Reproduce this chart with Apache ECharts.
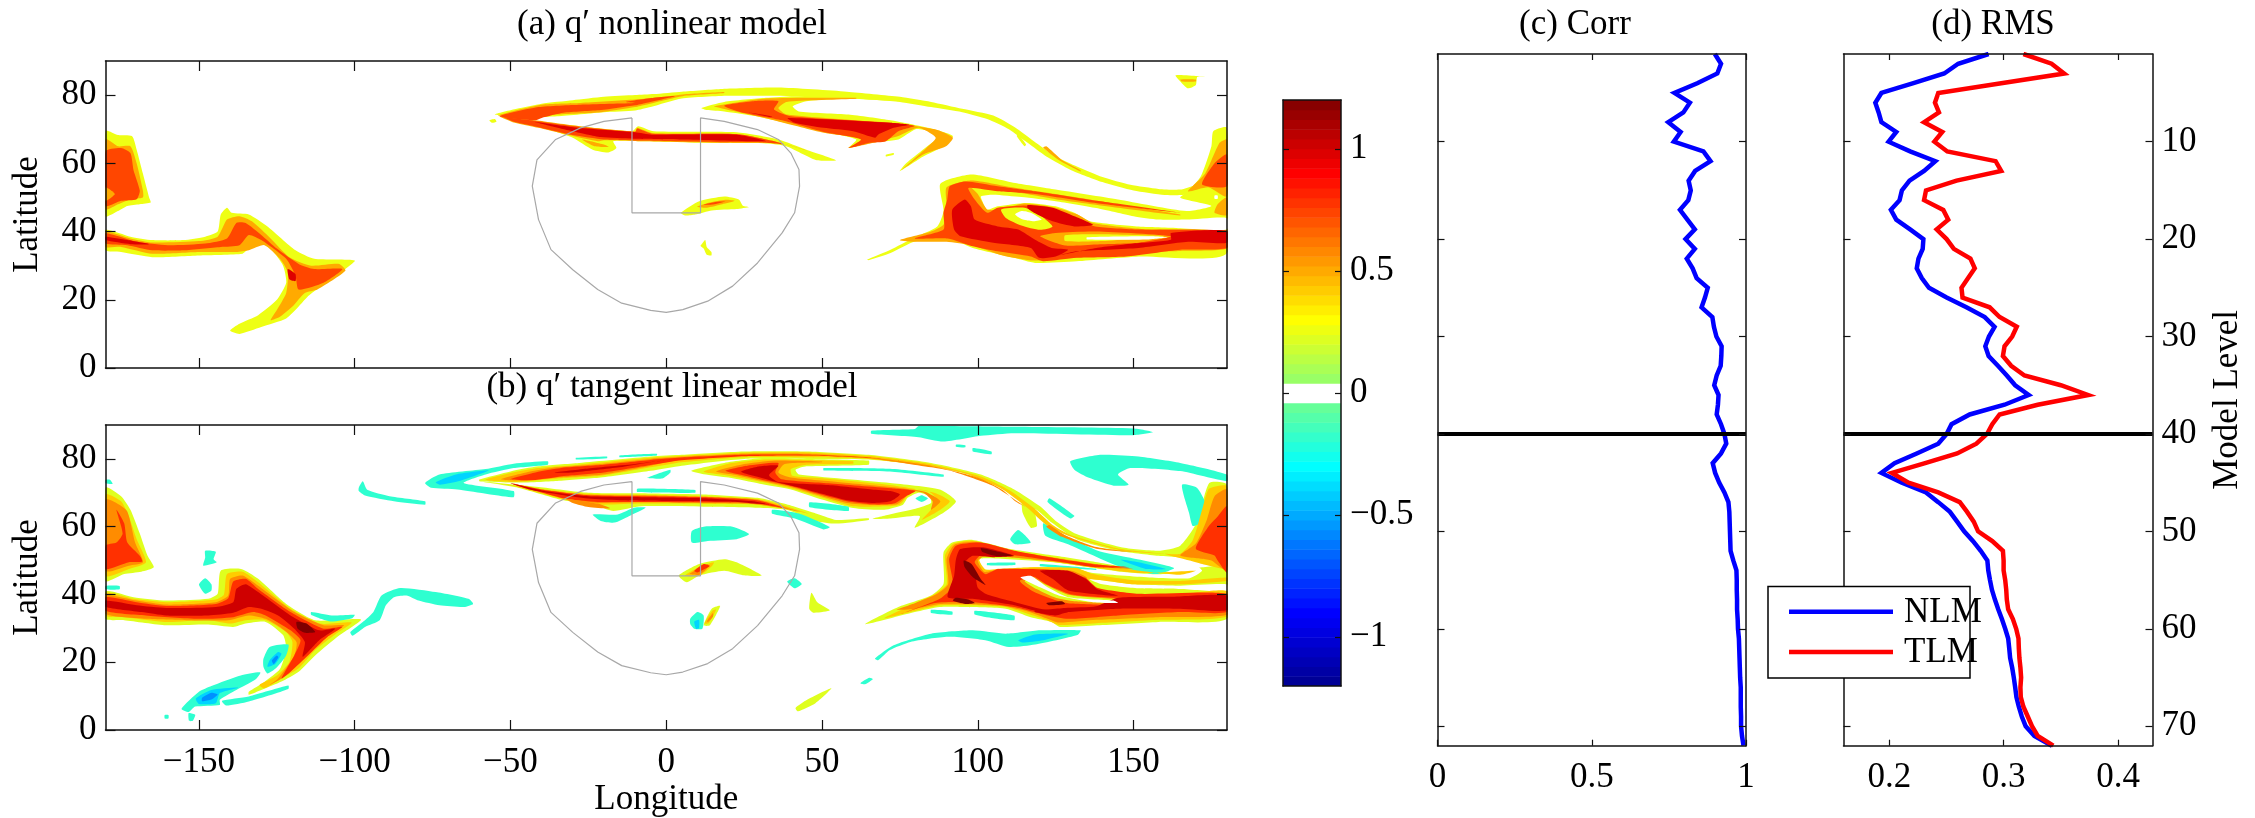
<!DOCTYPE html>
<html>
<head>
<meta charset="utf-8">
<script src="https://cdn.jsdelivr.net/npm/echarts@6/dist/echarts.min.js"></script>
<style>
    html, body { margin: 0; padding: 0; background: #fff; }
    #main { width: 2255px; height: 818px; }
</style>
</head>
<body>
<div id="main"></div>
<script>
// profile panels: one value per model level 1..72
var corr = [0.899,0.919,0.907,0.842,0.768,0.818,0.797,0.748,0.788,0.766,0.862,0.885,0.835,0.814,0.821,0.813,0.786,0.810,0.834,0.804,0.834,0.808,0.827,0.840,0.876,0.867,0.856,0.891,0.896,0.904,0.921,0.920,0.918,0.905,0.897,0.911,0.909,0.905,0.919,0.930,0.936,0.919,0.892,0.900,0.913,0.930,0.943,0.946,0.947,0.948,0.949,0.950,0.959,0.969,0.970,0.970,0.971,0.971,0.973,0.974,0.977,0.978,0.979,0.980,0.981,0.983,0.983,0.983,0.984,0.984,0.987,0.992];
var rmsNLM = [0.2868,0.2602,0.2480,0.2211,0.1931,0.1878,0.1907,0.1931,0.2061,0.1994,0.2182,0.2402,0.2304,0.2177,0.2110,0.2090,0.2014,0.2061,0.2182,0.2298,0.2292,0.2255,0.2240,0.2284,0.2347,0.2501,0.2674,0.2834,0.2920,0.2871,0.2839,0.2868,0.2949,0.3027,0.3100,0.3218,0.3007,0.2703,0.2544,0.2501,0.2428,0.2240,0.2046,0.1931,0.2110,0.2321,0.2428,0.2530,0.2593,0.2654,0.2732,0.2799,0.2857,0.2865,0.2880,0.2897,0.2923,0.2952,0.2984,0.3013,0.3039,0.3048,0.3056,0.3074,0.3088,0.3100,0.3111,0.3132,0.3158,0.3192,0.3268,0.3421];
var rmsTLM = [0.3172,0.3418,0.3528,0.2978,0.2428,0.2399,0.2434,0.2304,0.2463,0.2394,0.2507,0.2929,0.2978,0.2588,0.2321,0.2304,0.2472,0.2515,0.2414,0.2501,0.2564,0.2709,0.2747,0.2689,0.2631,0.2640,0.2877,0.2964,0.3114,0.3074,0.3007,0.2993,0.3065,0.3181,0.3499,0.3737,0.3297,0.2964,0.2900,0.2854,0.2761,0.2593,0.2313,0.2023,0.2168,0.2428,0.2616,0.2680,0.2738,0.2776,0.2900,0.2993,0.2999,0.2999,0.3013,0.3022,0.3027,0.3039,0.3080,0.3109,0.3129,0.3132,0.3137,0.3146,0.3152,0.3146,0.3149,0.3172,0.3210,0.3247,0.3297,0.3433];
var refLevel = 40;

var lonTicks = [-150,-100,-50,0,50,100,150];
var latTicks = [0,20,40,60,80];
var levelTicks = [10,20,30,40,50,60,70];
var corrTicks = [0,0.5,1];
var rmsTicks = [0.2,0.3,0.4];
var cbarTicks = [-1,-0.5,0,0.5,1];

// outline of the perturbed region, lon / lat
var regionLon = [-11,-11,11,11,18.6,29.3,36,40,42.6,42.8,41.2,37.2,29.3,21.3,13.3,5.3,0,-5,-14.3,-22,-30,-37,-41,-43,-41.5,-35.5,-27.5,-20,-11];
var regionLat = [73.3,45.5,45.5,73.3,72.3,69.9,67,63,58.2,53.3,45.5,39.6,30.8,24,19.6,17.1,16.3,16.9,19,23,28.8,34.7,43.5,53.3,61,67,70.4,72.3,73.3];

// panel (a) contour regions, [lon, lat] vertices per filled level
var aYellow = [
    [[-180,69.5],[-176,68.3],[-171.5,68],[-170,64],[-168,57],[-166,50],[-165.5,48.5],[-169,48],[-173,47.5],[-176,46],[-180,44.5]],
    [[-180,40.5],[-172,38.5],[-165,37.5],[-155,37.5],[-148,38.5],[-144,40],[-143,45],[-141,47],[-139.5,45.5],[-134,45],[-128,41.5],[-119,34.5],[-113,32],[-100,31.5],[-103,29],[-108,25.5],[-113,22.5],[-115,21],[-118,18],[-122,14.5],[-130,12],[-137,10],[-140,11],[-137,13],[-131,15.5],[-125,20],[-122,25],[-123,30],[-127,35],[-130,36.5],[-134,35],[-136,33.5],[-150,33],[-165,32.5],[-175,34],[-180,34.5]],
    [[-56.8,72.6],[-55,73],[-54.5,72.2],[-56,71.9]],
    [[-55,74.3],[-48,76],[-40,77.5],[-30,78.5],[-20,79.5],[-10,80],[-4,80.3],[5,81],[18,81.8],[36,82.2],[58,81],[75,79.5],[85,78],[95,76],[105,74],[112,70.5],[118,66.5],[125,62],[132,59],[140,56],[149,53.7],[158,52.5],[165,52.3],[170,53.5],[168,51],[160,50.7],[150,52],[140,54.5],[130,58],[122,62],[116,66],[110,70],[103,73],[95,75],[85,76.5],[75,78],[60,79],[40,79.7],[20,79.8],[5,79],[-5,76.5],[-10,75.5],[-20,75],[-35,73.8],[-45,73.5]],
    [[-50,73],[-42,72.3],[-28,70.9],[-11,69.4],[-9,70.9],[-4,69.4],[22.6,69.1],[36,67],[45,64],[54.5,60.9],[48,61],[38.5,65],[32,65.8],[12,66],[-8,66.5],[-17,66.5],[-16,64.5],[-18.6,63.2],[-23.6,64],[-30,67.5],[-38,70]],
    [[11.3,76.2],[18.6,78],[32,79.2],[41,79.7],[61,79.7],[74.5,78.7],[74.5,78.2],[58.5,78.9],[45,78.2],[40.6,76.7],[42.5,75.2],[58.5,74.3],[72,72.6],[84,70.4],[92,68],[89,65],[82.5,62],[75,57.7],[77,60],[83.8,65],[87,67.5],[84,69.5],[80,70],[74.5,67],[65,66],[58.5,64.5],[61,67],[50,69.4],[38.5,71.8],[29,73.8],[18.6,75.2],[13,75.6]],
    [[70.5,62.5],[73,63],[73,62.5],[70.5,62]],
    [[4.7,45.5],[10.6,48.9],[18.6,50.3],[23.3,49.4],[24.6,47.6],[26.6,47.2],[22.6,46.6],[14.6,46.2],[9.3,45],[6,44.7]],
    [[11.3,36.2],[12.5,37.5],[13,35.5],[14.5,34],[14.5,33],[13,33.2],[12,35],[11,35.8]],
    [[163.5,85.8],[170.5,85.6],[175,85.5],[170.5,85.4],[170,83],[167.5,82],[165.5,83.5]],
    [[113,68.5],[115.5,65.5],[115,65],[112.5,68]],
    [[64.5,31.8],[72,34.7],[79,38],[87,41.5],[89,46],[88,54],[98,56.7],[112,54.2],[125,52.3],[145,49.4],[167,46],[175,47.5],[165,49.9],[167.5,51.8],[171.6,56.2],[175,65],[175.6,69.4],[180,70.4],[180,33.7],[151.6,32.7],[131.7,31.3],[118.4,30.8],[111.7,32.3],[98.4,35.2],[91.8,37.6],[79.8,37.1],[72,33.7],[65,31.6]]
];
var aGaps = [
    [[101,50.3],[105,50.8],[114,50.1],[125,48.9],[138,46.9],[150,44.5],[158,43.5],[167,43.5],[180,44],[180,40.6],[165,41],[151,41.5],[136,43],[131,45.5],[125,47.4],[115.7,48.4],[106.4,47.4],[103,46.4],[101.7,48.4]],
    [[176,50.6],[177,50.6],[177,49.6],[176,49.6]],
    [[105,35.6],[112,35.5],[112,34.8],[105,34.8]]
];
var aOrange = [
    [[-180,67],[-176,65],[-172,65],[-170,60],[-168,52],[-168,50],[-172,49.5],[-176,48],[-180,46.5]],
    [[-180,40],[-172,38],[-165,36.8],[-150,37.2],[-144,38.5],[-141,43.5],[-137,44.5],[-133,43],[-127,38],[-121,32.5],[-114,30],[-105,30.5],[-103,28.5],[-112,23],[-116,22],[-120,18],[-124,15],[-127,14],[-125,17],[-122,22],[-121.5,28],[-124,32],[-129,36],[-134,34.5],[-138,34],[-150,34],[-165,33.5],[-175,35.5],[-180,35.5]],
    [[-54,74],[-40,77.2],[-27.5,77.7],[-10,78.7],[-4,79.2],[5.3,80.2],[18.6,80.9],[18.6,80.6],[5.3,79.7],[-6.6,77.2],[-10,76.5],[-21,75],[-35.5,74.3],[-40,73.8]],
    [[-53.5,73.8],[-42,72.6],[-28,70.9],[-10,69.4],[-9.3,70.4],[-4.6,68.9],[22.6,68.6],[34.6,66.5],[45,63.8],[37,65.8],[18.6,66],[-8,66.5],[-20,66.8],[-22,66.5],[-30,68],[-41,70.4],[-49,72]],
    [[15.3,76.7],[32,79],[61,79.2],[61,78.9],[38.6,78],[36,76.2],[38.6,74.3],[72,71.8],[86.5,69.9],[92,67.5],[89.8,65],[82.5,62.6],[75.8,58.2],[83.5,64.5],[86.5,67.5],[81,70.4],[74.5,68],[66.5,66],[58.5,64.5],[64,67],[50.5,69],[36,72.3],[24,74.8],[17.3,76.2]],
    [[10,47.3],[14,48.5],[19,49.3],[22,49],[18,48],[13,47]],
    [[165,84.6],[170,84.6],[170,84],[165.5,84]],
    [[75,37.5],[85,40],[89,42],[90,47],[90,53],[98,55],[111,53],[125,51],[145,48],[165,45],[165,44.7],[145,47],[125,49.5],[111,51.8],[103,53],[97,54],[100,51],[103,46.5],[107,46.5],[115,48.2],[125,47],[132,45],[137,42.5],[152,40.8],[165,40.3],[180,40],[180,35],[165,34.3],[150,33.8],[132,32.5],[118,31.5],[108,33],[98,36],[90,37],[80,37]],
    [[167.5,51.8],[173,57],[177.6,66],[180,67],[180,50.3],[174,53]],
    [[177,48],[180,50],[180,44.8],[176,45.5]],
    [[122,65],[127,61],[133,58],[133,57.6],[126,61],[121,64.6]]
];
var aBright = [
    [[-180,63.5],[-175,64.5],[-172,63],[-171,58],[-169,52],[-170,49.5],[-175,49],[-180,47.5]],
    [[-180,39.5],[-170,37],[-160,36],[-148,36.5],[-141,38],[-138,42.5],[-135,42.5],[-130,39],[-125,35],[-118,30.5],[-113,29],[-104,29],[-110,25],[-118,23],[-119,27],[-122,32],[-130,37.5],[-134,39],[-137,36],[-143,35.5],[-155,34.5],[-165,34.5],[-173,36],[-180,36.5]],
    [[-53.5,73.8],[-41,76.5],[-27.5,77.2],[-10,77.7],[-13,78],[-4,79.2],[2.7,79.7],[-6.6,77.7],[-10,77],[-21,75.6],[-33,74.8],[-40,73.3],[-42,72.6]],
    [[-52,73.5],[-42,72.4],[-28,70.7],[-10,69.2],[-9.3,70.2],[-4.6,68.7],[22.6,68.6],[34.6,66.5],[38,65.6],[30,66.2],[18.6,66.2],[-8,66.7],[-20,67],[-30,68.3],[-41,70.6],[-49,72.2]],
    [[18.6,76.9],[28,78.2],[36,78.2],[34.6,75.8],[40,73.8],[72,71.9],[79.8,71],[74.5,69.4],[70.5,66.5],[65.2,66],[61.2,65],[58.5,64.5],[62.5,67],[50.5,69.2],[37.2,72.6],[24,75]],
    [[79.8,38],[89,40.6],[89,45.5],[90.2,49.4],[91,53.3],[96,54.7],[106.4,53.3],[118.4,51.8],[138.3,49],[165,45.5],[138.3,48.3],[118.4,51],[106.4,51.8],[97,52.8],[99,49.4],[103,45.5],[106.4,47],[117,47.6],[125,45.5],[131.7,43.5],[137.7,41.5],[151.6,40.6],[180,40],[180,35.2],[165,34.7],[147.6,32.7],[131.7,32.3],[121,31.3],[117,32.7],[106.4,34.2],[98.4,35.7],[90.4,38]],
    [[172,53.8],[176,60],[180,62.6],[180,53.3]],
    [[12,47.9],[17,48.8],[19,48.8],[15,47.9]]
];
var aPatchOrange = [
    [[-180,53],[-177,51],[-180,49]],
    [[-27,67],[-20,65.5],[-18.5,64.8],[-23,65]],
    [[125,39.6],[138,40],[162,38.6],[151.6,36.7],[138,36.2],[128,35.9],[120,38.6]]
];
var aPatchYellow = [
    [[107.5,46.5],[115,47],[119,45.5],[124,41.5],[120,40.5],[114,41.8],[109,44]],
    [[128,38.9],[140,39.2],[160,38.6],[140,37.2],[128,37.2]]
];
var aRed = [
    [[-180,38.5],[-173,37.5],[-166,36.3],[-172,36.3],[-180,37.5]],
    [[-121.5,29],[-119,27.5],[-119,25.5],[-121,26]],
    [[-42,72.1],[-28.5,70.4],[-10,69.1],[-4.6,68.4],[22.6,68.4],[32,66.5],[5,67],[-10.6,67.2],[-21,67.7],[-25,68.4],[-37,70.9]],
    [[26,75],[34,73.8],[33,73.6],[27,74.8]],
    [[39,73.3],[72,71.9],[78,71.3],[73,70.4],[68,68.4],[67,67.5],[60,69.4],[50.5,70.4],[41,72]],
    [[91.8,46.4],[95.8,49.4],[97.8,47.4],[99,43.5],[106.4,41.5],[113,40.6],[118.4,37.6],[123.7,35.2],[129,34.7],[125,32.7],[119.7,32.3],[117,35.2],[105,36.7],[94.5,38.6],[92.4,40.6]],
    [[116,47.8],[124,47],[131,44.5],[137,42],[131,41.5],[124,43],[118,45.5],[116,46.8]],
    [[162,39.6],[180,40.3],[180,36.7],[167.5,37],[151.6,35.2],[131.7,34.2],[126,33],[138,35.2],[150,36.5],[162,37.6]]
];
var aCuts = [
    [[112,45],[114,46],[117,45.5],[120.5,43.5],[118,43],[114.5,43.5]],
    [[135,38.3],[155,38.6],[161,38.3],[155,37.7],[135,37.7]]
];

// panel (b) contour regions
var bYellow = [
    [[-180,71.5],[-175,69],[-172,65],[-169,58],[-166.5,51.4],[-164.5,48],[-168.5,46.7],[-174,46],[-180,44]],
    [[-180,40.9],[-171,39.2],[-160.5,38.2],[-147,38.7],[-144,40.2],[-143,47],[-136.5,47.5],[-131,44.6],[-122,37.2],[-112.7,32.4],[-98,32.6],[-104.8,28],[-112.7,22],[-118,17.2],[-123.5,14.3],[-130,11.8],[-134,10.4],[-134,11.3],[-129,14.2],[-124,18],[-122,24],[-123,28],[-128.6,31.9],[-135,31.4],[-139,30.4],[-147,31.1],[-160.5,30.9],[-174,32.4],[-180,32.8]],
    [[-60,73.9],[-50,76.3],[-41,77.8],[-28,78.8],[-5,80.7],[5,81.2],[25,82.2],[45,82.2],[65,81.2],[85,78.8],[101,75.4],[111.7,71],[120,66],[125,61.7],[131.7,57.8],[146,53.9],[158,52.9],[165,54.4],[170.3,61.2],[174.3,72.9],[180,72.4],[180,48],[172,50],[165,50.9],[158,51.4],[145,52.9],[131.7,56.3],[123.7,61.2],[118.4,65.1],[119,60.2],[117,59.7],[114.4,64.1],[113.7,68],[107.7,71.5],[97,75.4],[85,77.8],[65,79.8],[45,80],[25,80],[5,78],[-5,76.5],[-21,74.5],[-35,73.5],[-48,73],[-60,73.4]],
    [[-60,73.4],[-41,71.7],[-25,70],[-5,69.8],[12,69.5],[29.3,68.5],[38.6,66.6],[49,63.6],[54.5,62],[65,62.5],[65,62],[54.5,60.9],[48,61.7],[38.6,65],[29.3,65.6],[12,65.9],[-8,66],[-17,64.6],[-22,66],[-34,68],[-47.5,71.5]],
    [[8,76.5],[18.6,78.8],[32,80.3],[45,80],[65,79.5],[65,78.3],[45,77.8],[41.5,76.8],[42.6,75.4],[71.8,72.9],[87.8,71],[93,67.5],[89,64.1],[79.8,59.7],[81.4,63.1],[72,62.4],[66,62.3],[72,63.7],[80,65.3],[85,67],[84.5,69],[81,70],[77.5,68.5],[76,66.5],[70,65],[60,65.5],[50,68],[40,71],[30,72.7],[20,74.5],[12,75.5]],
    [[41.5,6.5],[45.2,8.9],[53,12.3],[47.9,7.9],[42.3,5.5]],
    [[45.9,35.8],[46.6,40.5],[48.5,37.7],[52.5,35.3],[47.3,34.6]],
    [[4,45.6],[10.6,49],[18.6,50.4],[22.6,49.5],[30.6,45.6],[24.6,45.7],[18.6,47],[10.6,45.6],[6.6,43.6]],
    [[12,30.9],[14.6,35.8],[17.3,36.6],[14,30.9]],
    [[63.8,31.2],[74.5,36.3],[85,39.7],[89,43.1],[89,52.4],[91.8,55.3],[98.4,56.1],[110.4,53.4],[125,51.4],[138.3,49.5],[151.6,47.5],[165,46.5],[172,48],[180,48],[180,32.8],[158,31.9],[138.3,30.9],[126.4,30.4],[123.7,31.9],[117,33.3],[109,35.8],[95.8,36.3],[87.8,36.3],[79.8,34.8]]
];
var bGaps = [
    [[100.4,50.4],[106,50.6],[125,49.4],[145,46.8],[160,46],[170,48.5],[172,47],[168,44.8],[155,45],[137,46.3],[131.7,47.5],[118.4,48],[106,47.2],[102,47.5]],
    [[135.7,44.6],[149,43.1],[165,42.6],[180,43],[180,40.9],[165,41.6],[151.6,41.8],[140,43]]
];
var bCyan = [
    [[-180,73.8],[-178.5,73.8],[-177.7,72.6],[-180,72.8]],
    [[-148,52.9],[-144.6,52.6],[-145.3,50.4],[-144.3,49.5],[-148.6,48.5],[-148,50.9]],
    [[-150,43],[-148,44.8],[-146,43],[-146,41.2],[-148,40.2],[-149.3,41.6]],
    [[-180,42.5],[-175.5,42.5],[-175.5,41.5],[-180,41.5]],
    [[-114,34.8],[-107.4,33.8],[-100,34],[-100.8,33],[-107.4,32],[-111.4,33],[-114,34]],
    [[-101.4,28.9],[-96.7,32.4],[-94,34.8],[-91.4,39.7],[-85.4,41.9],[-74,40.7],[-63.5,38.7],[-62,37.2],[-64.9,36.3],[-72.8,36.8],[-79.5,38.2],[-83.4,39.7],[-87.4,39.2],[-90,36.8],[-92,32.4],[-96.7,30.4],[-100.7,27.8]],
    [[-129.3,21],[-127.3,24.5],[-121.3,25.2],[-122,22],[-125.3,18.2],[-128,16.7],[-129.3,18.7]],
    [[-155.6,6.3],[-150,11.3],[-146,13],[-136.6,16.1],[-130.3,17],[-132,14.8],[-138,11.8],[-143.3,8.9],[-143.3,7.4],[-151.2,6.9],[-153.3,5.3]],
    [[-142.6,8.6],[-134,9.9],[-121.3,13.1],[-121.3,12.1],[-134,8.4],[-141.3,7.2]],
    [[-161,4.4],[-159.8,4.4],[-159.8,3.4],[-161,3.4]],
    [[-153.3,5],[-151.2,4.5],[-152,2.7],[-153.2,2.7]],
    [[-98.7,71.5],[-97.4,73.4],[-96,70.9],[-88.8,69],[-77.4,67.5],[-77.4,66.5],[-87.4,67.5],[-96.7,69.2],[-98.7,70.5]],
    [[-77.4,72.9],[-72.8,75.4],[-58,77],[-49,78.6],[-38,79.3],[-38,78.3],[-49,77.3],[-58,75.4],[-65,72.9],[-49,70.5],[-49,68.7],[-67,71],[-75.5,71.5]],
    [[-29,80.3],[-19,80.7],[-19,80.2],[-29,79.8]],
    [[-15,81],[-3,81.5],[-3,81],[-15,80.5]],
    [[-23.6,63.6],[-15.6,63.6],[-10.3,65.6],[-6.6,65.6],[-12,63.1],[-16.6,61.2],[-21,61.7]],
    [[65.8,88.3],[79.8,88.8],[81,89.7],[111.7,89.5],[150,89],[156.3,87.9],[150,87],[111.7,87.6],[101,86.8],[89,85.1],[81,86.4],[65.8,87.4]],
    [[93,84.2],[96,84],[96,83.4],[93,83.6]],
    [[98.4,83.2],[104.4,82.2],[104.4,81.4],[98.4,82.2]],
    [[129.7,79.3],[139.7,81.2],[151.6,80.7],[165,78.8],[180,75.4],[180,73.4],[165,76.4],[149,77.3],[145,75.4],[148.4,72.4],[143.6,72.1],[135.7,74.4],[131,76.8]],
    [[165.6,72.4],[170.3,71.5],[173,67],[171.6,61.2],[169,60.2],[167.8,64.1],[166.5,68]],
    [[121,61],[125,58.8],[138.3,53],[149,50.8],[163,47.8],[157,46],[145,48.4],[129,54.8],[121.7,57.3]],
    [[110.4,56.3],[113,59],[117,55.3],[112,54.8]],
    [[123,68.4],[131,63.2],[129.7,62.4],[122.4,67.3]],
    [[46,67.2],[58.5,65.9],[58.5,64.6],[46,65.7]],
    [[50.5,77.3],[71.8,77.1],[89,75.4],[89,74.7],[71.8,76.3],[50.5,76.6]],
    [[34,65],[42.6,63.9],[52.5,59.9],[50.5,59.2],[41.3,62.4],[34,63.8]],
    [[-6,74.4],[1.3,76.8],[1.3,75.9],[-1.3,74.2]],
    [[-9.3,71.2],[9.3,70.8],[9.3,70],[-9.3,70.2]],
    [[8.2,58.7],[12,60],[21.3,60],[26.6,57.8],[22.6,56.3],[13.3,55.8],[8.2,55.3]],
    [[38.8,43.8],[41.2,44.8],[43.5,43.1],[41.2,41.8]],
    [[7.7,32.8],[10,34.8],[12,33.8],[11.6,29.9],[9,29.9],[7.7,31.3]],
    [[85,35.5],[91.8,35],[91.8,34],[85,34.5]],
    [[99,35.2],[111.7,33.8],[111.7,32.4],[105,33],[99,34.1]],
    [[67,21.1],[73,25],[85,28.4],[98.4,29.4],[109,28.4],[120,29.4],[133,29.4],[132,28],[118.4,25.2],[110,24.5],[102.4,26.5],[90.4,27.5],[78.4,26],[71.8,23.6],[68,20.6]],
    [[62.3,13.8],[65.2,15.4],[66.3,15],[63.8,13.5]],
    [[80,68.3],[82,69.3],[84,68.3],[82,67.3]],
    [[103,49.3],[112,49.4],[112,48.7],[103,48.6]],
    [[120,49],[138,47.6],[138,47.2],[120,48.3]]
];
var bSky = [
    [[-127.3,20.6],[-124.6,23],[-123.5,22.5],[-125.5,19.5],[-128,18.7]],
    [[-151,9.3],[-146,11.8],[-137.4,12.5],[-143.3,10.9],[-144.6,7.9],[-150,7.7]],
    [[-74,73.1],[-67.5,75.4],[-57,76.6],[-66.8,73.4],[-72.7,72.4]],
    [[146,50.2],[151.6,49.5],[160.3,47.5],[154.3,47.5]],
    [[113,26.5],[118.4,28.2],[129,28.4],[121,26.5],[114.4,25.8]],
    [[9,32],[10.5,32.5],[10.5,30],[9.5,30]]
];
var bBlue = [
    [[-126.6,20.5],[-125,22],[-124.5,21.5],[-126,19.5]],
    [[-149,9.5],[-146,11],[-144,10.5],[-146,9],[-149,8.5]]
];
var bGold = [
    [[-180,69.5],[-175,67.5],[-172.5,63],[-170,56.3],[-167,49.5],[-172.5,47.5],[-180,45.5]],
    [[-180,40.5],[-171,38.7],[-160.5,37.7],[-144.6,38.5],[-142,39.9],[-141,46],[-136,46.7],[-131,43.6],[-120.6,35.8],[-111,31.4],[-101,31.7],[-106,28.4],[-112.7,23.6],[-118,18.2],[-123.5,15.2],[-129,12.3],[-130.6,13.3],[-125,16.1],[-121,20.1],[-120,26],[-122,28.9],[-128.6,32.4],[-135,32.4],[-140,31.4],[-147,32.4],[-160.5,31.9],[-174,33.3],[-180,33.8]],
    [[-58,73.8],[-50,75.8],[-41,77.3],[-28,78.3],[-5,80.3],[5,80.9],[25,81.8],[45,81.9],[65,80.9],[85,78.4],[101,74.8],[110,70.8],[118,65.5],[124,60.5],[130,57.5],[146,53.4],[160,52],[146,53],[130,57],[122,60.5],[116,65.5],[108,71],[97,75.4],[85,77.8],[65,80],[45,80.5],[25,80.5],[5,79],[-5,77.5],[-21,75],[-35,74.2],[-48,73.2]],
    [[-52,72.5],[-41,71.2],[-25,69.7],[-5,69.4],[12,69],[29,68.2],[37,66.5],[46,63.8],[40,65],[29,66.5],[12,66.7],[-8,66.8],[-21,66.5],[-30,67.5],[-41,70],[-49,72]],
    [[12,76.3],[20,78.6],[32,79.8],[45,79.7],[60,79.3],[60,78.6],[45,78.3],[40,77],[40.5,75],[50,74.3],[71.8,72.3],[86,70],[91,67.5],[88,65],[82,62],[85,65],[87,68],[84,70.5],[80,71],[77,68.5],[75,66.5],[70,66],[60,66],[50,68.6],[40,71.3],[30,73.3],[20,75],[14,75.8]],
    [[70,33],[78,36.5],[86,40],[90,43],[89.5,51.5],[92,54.9],[98.4,55.8],[111,52.9],[125,50.9],[138,49],[152,47],[165,45.8],[170,47],[152,46.3],[138,47.8],[125,49.5],[111,51],[102,51.5],[100.5,50],[102.5,47.3],[106,47.5],[118,48],[131.7,47.8],[137,46],[150,44.2],[165,44],[180,45],[180,44],[165,43],[150,43],[136,44.5],[134,43],[138,40.8],[150,39.5],[165,40],[180,41],[180,33.5],[158,32.5],[138,31.5],[126,31],[122,32.5],[117,34],[109,36.3],[96,36.8],[88,36.8],[80,35.2]],
    [[160,52],[165,52],[169,56],[172,65],[174,71],[177,72],[180,72],[180,48],[172,49],[168,50]],
    [[6,45.6],[10.6,48.1],[15.3,49.5],[14.6,48.3],[10.6,45.5]],
    [[12.3,31.5],[14.8,35.2],[16,35.5],[13.6,31.5]]
];
var bOrange = [
    [[-180,68],[-176.5,67],[-173,64.5],[-170.5,55.3],[-168,49.5],[-172.5,48.5],[-180,47]],
    [[-180,39.7],[-170,38.2],[-160.5,37],[-144.6,37.7],[-140.6,39.7],[-140,44.6],[-136,45.6],[-131,42.6],[-119.3,34.8],[-110,30.9],[-103.4,30.9],[-107.4,28.4],[-114,24],[-119.4,18.2],[-123.5,15.2],[-127.3,13.3],[-124.6,15.2],[-119.4,22],[-118.7,26],[-123.3,29.9],[-128.6,32.8],[-134,33.8],[-140.6,32.4],[-154,32.4],[-167,32.8],[-180,34.2]],
    [[-53,74],[-45,76],[-35,77.5],[-20,78.6],[-5,80],[5,80.6],[25,81.5],[45,81.5],[65,80.5],[85,78],[100,74.5],[108,70.8],[112,67.5],[115,66],[105,72],[92,76.3],[85,77.5],[65,80.2],[45,81],[25,81],[5,79.8],[-5,78],[-21,75.3],[-35,74.5],[-45,73.5]],
    [[-49,72.7],[-41,71],[-25,69.4],[-5,69.2],[12,68.8],[29,68],[36,66.3],[43,64.3],[37,65.5],[28,66.7],[12,67],[-8,67.2],[-22,67],[-32,68],[-41,70.5]],
    [[16,76.3],[24,78.3],[35,79.5],[50,79.2],[50,79],[38,78.5],[36,76],[40,74.5],[55,73.2],[72,71.7],[83,70.3],[88,67.5],[85,65],[85.5,67.5],[82.5,70],[79,70.5],[76,68],[74,66.6],[66,66.4],[58,67],[50,69],[40,71.7],[30,73.6],[22,75.3]],
    [[123,60.5],[128,57.5],[138,54],[150,52.5],[138,53.5],[127,57],[122,60]],
    [[74,35.5],[80,37.5],[87,40.2],[90.5,43],[90,50.5],[92.5,54.7],[100,55.5],[111,52.8],[125,50.7],[138,48.9],[150,47.5],[138,48],[125,49.7],[111,50.9],[102,51.2],[100,50],[102,46.7],[106,47.2],[118,47.6],[130,47],[135,45],[133.5,43],[138,40.5],[150,39.2],[165,39.5],[180,40],[180,34],[158,33.3],[138,32.5],[126,31.7],[122,33],[116,35],[108,36.6],[96,37.2],[88,37.2],[80,35.8]],
    [[165,51.5],[170,55],[173.5,62],[176,69],[180,71],[180,47],[175,50],[172,50.5]],
    [[7.5,46],[10.6,47.7],[13.5,48.8],[13,47.6],[10.6,45.8]],
    [[13,32],[15,34.5],[15,33.5],[13.6,32]]
];
var bBright = [
    [[-176.5,65],[-174,61],[-173,55.3],[-169,51.4],[-168.2,49.7],[-172.5,49.5],[-180,47.5],[-180,54.4],[-176.5,55.3],[-174.5,58]],
    [[-180,39.2],[-170,37.7],[-160.5,36.6],[-144.6,37.2],[-140.6,38.9],[-139,43.8],[-135,44.6],[-131,41.6],[-120.6,34.8],[-110,29.9],[-104,30.4],[-108.7,27.5],[-115,22],[-120.6,17.2],[-123.5,15.2],[-119.4,22],[-117.4,26.5],[-120.6,29.4],[-128.6,33.8],[-132.6,34.8],[-139,33.3],[-150,32.8],[-167,33.8],[-180,35.2]],
    [[-50,74],[-42,76],[-32,77.5],[-20,78.3],[-5,79.7],[5,80.4],[25,81.2],[45,81.2],[65,80.4],[75,79.5],[65,80.3],[45,81],[25,80.8],[5,79.6],[-5,78.2],[-20,76],[-32,75],[-42,73.8]],
    [[-50,72.8],[-40,71],[-25,69.3],[-5,69],[12,68.7],[29,67.8],[38,65.5],[28,67],[12,67.2],[-8,67.3],[-22,67.3],[-33,68.4],[-42,70.6]],
    [[19,76.5],[26,78],[36,78.8],[35,76],[37,74],[52,72.8],[72,71.3],[80,70.5],[77,69],[73,66.8],[66,66.6],[58,67.5],[50,69.4],[40,72],[30,74],[24,75.3]],
    [[77,34.8],[87.8,38.7],[92,42.6],[90.8,50.4],[93,54.4],[101,55.3],[111.7,52.9],[125,50.7],[138.3,48.8],[148.7,48],[138.3,48],[125,49.8],[111.7,51.6],[101,51.6],[99,49.5],[102.4,46],[106.4,47.5],[117,47.5],[125,47],[134.4,45],[138.3,42],[151.6,40.2],[180,40.2],[180,34.8],[165,34.8],[145,33.8],[129,32.8],[122.4,33.8],[111.7,36.3],[98.4,37.7],[86.3,37.5],[75.4,34.3]],
    [[170,53.5],[174,60],[177,63],[180,66],[180,46.5],[177,50],[176,51.5]],
    [[9,47],[12,49],[14,48.4],[10,46.5]]
];
var bPatchOrange = [
    [[-32,68.2],[-22,66.8],[-18,65.4],[-25,65.8],[-30,67]],
    [[118,45.2],[122,43],[130,40],[145,39],[160,38.8],[166,37.6],[145,36.8],[130,37.3],[125,38.3],[118,40.8],[113.5,44]]
];
var bPatchYellow = [
    [[118,44.8],[121.5,43],[129.5,39.8],[145,38.6],[158,38.4],[145,37.4],[131,38],[125,39],[119,41.5],[115,44]]
];
var bRed = [
    [[-180,38.2],[-170,36.8],[-160.5,36],[-144.6,36.3],[-139,37.7],[-138,41.6],[-135,43],[-131,40.7],[-120.6,33.8],[-111.4,29.4],[-106.3,29.9],[-111.4,26.5],[-116.7,21.6],[-116,26],[-119.4,29.9],[-124.6,33.8],[-130,35.8],[-134,36.3],[-139,34.6],[-147,33.8],[-160.5,33.8],[-168.4,34.8],[-180,36.3]],
    [[-36,76],[-25,77.2],[-10,78.5],[2,79.8],[-5,79],[-15,77.5],[-30,76]],
    [[-50,72.8],[-40,70.7],[-25,69],[-5,68.7],[12,68.4],[28,67.5],[33,66.5],[20,67.4],[0,67.6],[-15,67.8],[-25,68.3],[-35,69.6],[-44,71]],
    [[24,76.2],[30,77.8],[36,78],[33,75.2],[36,73.2],[52,72.3],[66,71],[72,70.5],[75,69.5],[72,67.5],[66,67],[58,67.8],[50,69.7],[42,71.7],[34,73.5],[28,75]],
    [[145,39],[162,39.3],[180,39.7],[180,35.3],[165,35.8],[145,35.8],[129,34.8],[125,33.8],[118,35],[128,36],[138,36.5]],
    [[94.4,53.4],[101.7,53.9],[111.7,51.4],[105.4,51],[98.4,51.4],[96,49.5],[99,46.5],[100,42],[103,40],[111.7,37.8],[120,35.8],[129,34.8],[122.4,34.3],[111.7,36.8],[98.4,38.7],[90.4,39.2],[92.4,45.5],[93,50.4]],
    [[120,47],[129,47],[134.6,44.6],[138.3,41.6],[145,39.6],[129,41.2],[124,44.6]]
];
var bDark = [
    [[-118.7,31.9],[-115.4,31.4],[-112.7,28.9],[-116,28.7],[-118.3,29.9]],
    [[101,53.7],[107,52.5],[111,51.5],[106,51.3],[101.5,52.5]],
    [[95.5,50],[98,49],[101,44.5],[102.5,42.8],[98.5,45],[95.8,48]],
    [[93,39],[97,38.5],[99,37.5],[96,37.2],[92,38.2]],
    [[122,37.5],[127,38],[128,37.2],[123,36.8]]
];
var bCuts = [
    [[113.7,45],[117,45.5],[122.4,42.1],[129,39.2],[143.6,38.2],[145,37.5],[137,37.7],[126,39.7],[120,42.1]]
];

var paint = {
    white: '#ffffff', cyan: '#2effd0', sky: '#00d4ff', blue: '#0090ff',
    yellowA: '#eeff14', orangeA: '#ffaa00', brightA: '#ff4600', redA: '#de0000',
    yellowB: '#dfff1e', goldB: '#ffcc00', orangeB: '#ff8c00', brightB: '#ff3000', redB: '#cf0000', darkB: '#800000'
};
var panelA = [
    [paint.yellowA, aYellow], [paint.white, aGaps], [paint.orangeA, aOrange], [paint.brightA, aBright],
    [paint.orangeA, aPatchOrange], [paint.yellowA, aPatchYellow], [paint.redA, aRed], [paint.white, aCuts]
];
var panelB = [
    [paint.yellowB, bYellow], [paint.white, bGaps], [paint.cyan, bCyan], [paint.sky, bSky], [paint.blue, bBlue],
    [paint.goldB, bGold], [paint.orangeB, bOrange], [paint.brightB, bBright],
    [paint.orangeB, bPatchOrange], [paint.yellowB, bPatchYellow], [paint.redB, bRed], [paint.darkB, bDark], [paint.white, bCuts]
];

// jet colormap for the colour bar
var jetStops = [[-1.2,0,0,143],[-0.9,0,0,255],[-0.3,0,255,255],[0.3,255,255,0],[0.9,255,0,0],[1.2,128,0,0]];
function jet(v) {
    for (var i = 1; i < jetStops.length; i++) {
        var a = jetStops[i - 1], b = jetStops[i];
        if (v <= b[0]) {
            var t = (v - a[0]) / (b[0] - a[0]);
            return 'rgb(' + [1, 2, 3].map(function (k) { return Math.round(a[k] + (b[k] - a[k]) * t); }).join(',') + ')';
        }
    }
    return 'rgb(128,0,0)';
}
var cbarBands = [];
for (var n = 0; n < 60; n++) {
    var lo = -1.2 + n * 0.04, hi = lo + 0.04, mid = (lo + hi) / 2;
    cbarBands.push([lo, hi, Math.abs(mid) < 0.04 ? '#ffffff' : jet(mid)]);
}

var serif = '"Liberation Serif", "Times New Roman", serif';
var ink = '#111111';
var fontSize = 35;

var chart = echarts.init(document.getElementById('main'));

var grids = [
    { left: 105.5, top: 61, width: 1121.5, height: 307 },   // a
    { left: 105.5, top: 425, width: 1121.5, height: 307 },  // b
    { left: 1437.5, top: 54, width: 308.5, height: 691.7 }, // c
    { left: 1843.5, top: 54, width: 309, height: 691.7 },   // d
    { left: 1283, top: 100, width: 58, height: 586 }        // colour bar
];

function signed(v) { return String(v).replace('-', '\u2212'); }

function axisBase(pos, min, max, ticks, labels, inverse, tickLen) {
    var horizontal = pos === 'bottom' || pos === 'top';
    return {
        type: 'value', position: pos, min: min, max: max, inverse: !!inverse, z: 10,
        axisLine: { show: true, onZero: false, lineStyle: { color: ink, width: 1.5 } },
        axisTick: { show: ticks.length > 0, inside: true, length: tickLen || 10, customValues: ticks, lineStyle: { color: ink, width: 1.2 } },
        axisLabel: labels
            ? { show: true, customValues: ticks, formatter: signed, color: '#000', fontFamily: serif, fontSize: fontSize, margin: horizontal ? 15 : 9 }
            : { show: false },
        splitLine: { show: false }
    };
}

var xAxes = [], yAxes = [];
function addFrame(g, x, y) {
    x.forEach(function (ax) { ax.gridIndex = g; xAxes.push(ax); });
    y.forEach(function (ax) { ax.gridIndex = g; yAxes.push(ax); });
}

function named(ax, name, gap, rotate) {
    ax.name = name;
    ax.nameLocation = 'middle';
    ax.nameGap = gap;
    if (rotate !== undefined) ax.nameRotate = rotate;
    ax.nameTextStyle = { color: '#000', fontFamily: serif, fontSize: fontSize };
    return ax;
}

addFrame(0,
    [axisBase('bottom', -180, 180, lonTicks, false), axisBase('top', -180, 180, lonTicks, false)],
    [named(axisBase('left', 0, 90, latTicks, true), 'Latitude', 60), axisBase('right', 0, 90, latTicks, false)]);
addFrame(1,
    [named(axisBase('bottom', -180, 180, lonTicks, true), 'Longitude', 52), axisBase('top', -180, 180, lonTicks, false)],
    [named(axisBase('left', 0, 90, latTicks, true), 'Latitude', 60), axisBase('right', 0, 90, latTicks, false)]);
addFrame(2,
    [axisBase('bottom', 0, 1, corrTicks, true, false, 6), axisBase('top', 0, 1, corrTicks, false, false, 6)],
    [axisBase('left', 1, 72, levelTicks, false, true, 7), axisBase('right', 1, 72, levelTicks, false, true, 7)]);
addFrame(3,
    [axisBase('bottom', 0.16, 0.43, rmsTicks, true, false, 6), axisBase('top', 0.16, 0.43, rmsTicks, false, false, 6)],
    [axisBase('left', 1, 72, levelTicks, false, true, 7), named(axisBase('right', 1, 72, levelTicks, true, true, 7), 'Model Level', 58, 90)]);
addFrame(4,
    [axisBase('bottom', 0, 1, [], false), axisBase('top', 0, 1, [], false)],
    [axisBase('left', -1.2, 1.2, cbarTicks, false, false, 6), axisBase('right', -1.2, 1.2, cbarTicks, true, false, 6)]);

function contourSeries(polys, color, g) {
    return {
        type: 'custom', xAxisIndex: g * 2, yAxisIndex: g * 2, clip: true, silent: true,
        data: polys.map(function (p) { return p[0]; }),
        encode: { x: 0, y: 1 },
        renderItem: function (params, api) {
            return {
                type: 'polygon',
                shape: { points: polys[params.dataIndex].map(function (p) { return api.coord(p); }), smooth: 0.2 },
                style: { fill: color }
            };
        }
    };
}

function outlineSeries(g) {
    return {
        type: 'line', xAxisIndex: g * 2, yAxisIndex: g * 2, silent: true, showSymbol: false, z: 5,
        data: regionLon.map(function (v, i) { return [v, regionLat[i]]; }),
        lineStyle: { color: '#a8a8a8', width: 1.2 }
    };
}

function profileSeries(g, values, color) {
    return {
        type: 'line', xAxisIndex: g * 2, yAxisIndex: g * 2, silent: true, showSymbol: false, z: 5,
        data: values.map(function (v, i) { return [v, i + 1]; }),
        lineStyle: { color: color, width: 4.5, join: 'miter' }
    };
}

function refLine(g, x0, x1) {
    return {
        type: 'line', xAxisIndex: g * 2, yAxisIndex: g * 2, silent: true, showSymbol: false, z: 6,
        data: [[x0, refLevel], [x1, refLevel]],
        lineStyle: { color: '#000', width: 4 }
    };
}

var series = [];
panelA.forEach(function (l) { series.push(contourSeries(l[1], l[0], 0)); });
series.push(outlineSeries(0));
panelB.forEach(function (l) { series.push(contourSeries(l[1], l[0], 1)); });
series.push(outlineSeries(1));
series.push(profileSeries(2, corr, '#0000ff'), refLine(2, 0, 1));
series.push(profileSeries(3, rmsNLM, '#0000ff'), profileSeries(3, rmsTLM, '#ff0000'), refLine(3, 0.16, 0.43));
series.push({
    type: 'custom', xAxisIndex: 8, yAxisIndex: 8, clip: true, silent: true,
    data: cbarBands.map(function (b) { return [0, b[0], b[1]]; }),
    encode: { x: 0, y: 1 },
    renderItem: function (params, api) {
        var b = cbarBands[params.dataIndex];
        var p0 = api.coord([0, b[1]]), p1 = api.coord([1, b[0]]);
        return { type: 'rect', shape: { x: p0[0], y: p0[1], width: p1[0] - p0[0], height: p1[1] - p0[1] + 0.5 }, style: { fill: b[2] } };
    }
});

function panelTitle(text, x, y) {
    return { text: text, left: x, top: y, textAlign: 'center', textStyle: { color: '#000', fontFamily: serif, fontSize: fontSize, fontWeight: 'normal' } };
}

chart.setOption({
    animation: false,
    backgroundColor: '#ffffff',
    title: [
        panelTitle('(a) q\u2032 nonlinear model', 667, 2),
        panelTitle('(b) q\u2032 tangent linear model', 667, 365),
        panelTitle('(c) Corr', 1570, 2),
        panelTitle('(d) RMS', 1988, 2)
    ],
    grid: grids,
    xAxis: xAxes,
    yAxis: yAxes,
    series: series,
    graphic: [
        { type: 'rect', z: 100, shape: { x: 1768, y: 586.5, width: 202, height: 91.5 }, style: { fill: '#fff', stroke: '#000', lineWidth: 1.5 } },
        { type: 'line', z: 101, shape: { x1: 1789, y1: 611.7, x2: 1893, y2: 611.7 }, style: { stroke: '#0000ff', lineWidth: 4.5 } },
        { type: 'line', z: 101, shape: { x1: 1789, y1: 652, x2: 1893, y2: 652 }, style: { stroke: '#ff0000', lineWidth: 4.5 } },
        { type: 'text', z: 101, x: 1904, y: 613, style: { text: 'NLM', font: fontSize + 'px ' + serif, fill: '#000', textVerticalAlign: 'middle' } },
        { type: 'text', z: 101, x: 1904, y: 653, style: { text: 'TLM', font: fontSize + 'px ' + serif, fill: '#000', textVerticalAlign: 'middle' } }
    ]
});
</script>
</body>
</html>
